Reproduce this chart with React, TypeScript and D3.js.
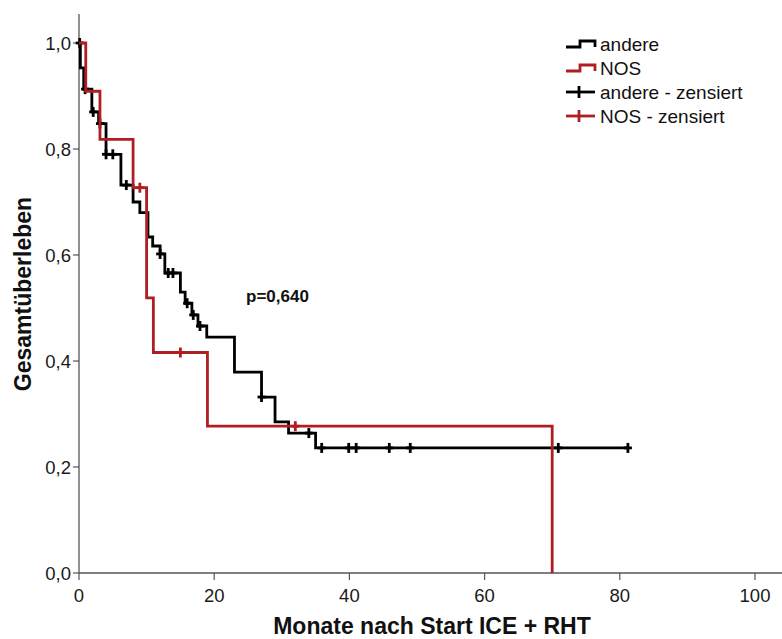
import React from "react";
import * as d3 from "d3";

// Kaplan–Meier steps: [months, survival after the step]
const andereSteps: [number, number][] = [
  [0, 1.0], [0.2, 0.953], [0.7, 0.913], [1.9, 0.87], [2.9, 0.848], [4.0, 0.79],
  [6.2, 0.732], [8.0, 0.7], [9.0, 0.68], [10.2, 0.634], [10.9, 0.617], [12.0, 0.602],
  [12.7, 0.566], [15.0, 0.53], [15.7, 0.509], [16.7, 0.487], [17.6, 0.466],
  [18.9, 0.445], [23.0, 0.379], [27.0, 0.332], [29.0, 0.285], [31.0, 0.264],
  [35.0, 0.236],
];
const andereEnd = 81.2;
const andereCensored = [
  0.1, 0.9, 2.1, 3.1, 4.0, 5.0, 7.0, 12.0, 13.2, 13.9, 16.0, 16.9, 17.9, 27.0,
  34.0, 35.9, 39.9, 41.0, 45.9, 49.0, 70.9, 81.2,
];

const nosSteps: [number, number][] = [
  [0, 1.0], [1.0, 0.909], [3.1, 0.818], [8.0, 0.727], [10.0, 0.519],
  [11.0, 0.416], [19.0, 0.277], [70.0, 0.0],
];
const nosEnd = 70.0;
const nosCensored = [9.0, 15.0, 32.0];

const xTicks = [0, 20, 40, 60, 80, 100];
const yTicks = [0, 0.2, 0.4, 0.6, 0.8, 1.0];
const legendItems = ["andere", "NOS", "andere - zensiert", "NOS - zensiert"];
const pValueText = "p=0,640";
const xTitle = "Monate nach Start ICE + RHT";
const yTitle = "Gesamtüberleben";

const BLACK = "#000000";
const RED = "#b01e23";
const FONT = "'Liberation Sans', Arial, sans-serif";

const W = 782;
const H = 639;

const deLocale = d3.formatLocale({
  decimal: ",",
  thousands: ".",
  grouping: [3],
  currency: ["", " €"],
});
const fmtY = deLocale.format(".1f");

function survivalAt(steps: [number, number][], t: number): number {
  let s = steps[0][1];
  for (const [time, val] of steps) {
    if (time <= t) s = val;
  }
  return s;
}

export default function App() {
  const x = d3.scaleLinear().domain([0, 100]).range([79, 755]);
  const y = d3.scaleLinear().domain([0, 1]).range([573, 43]);

  const line = d3
    .line<[number, number]>()
    .x((d) => x(d[0]))
    .y((d) => y(d[1]))
    .curve(d3.curveStepAfter);

  const andereLine = line([
    ...andereSteps,
    [andereEnd, andereSteps[andereSteps.length - 1][1]],
  ]);
  const nosLine = line([...nosSteps, [nosEnd, nosSteps[nosSteps.length - 1][1]]]);

  const censorMark = (t: number, s: number, color: string, key: string) => {
    const cx = x(t);
    const cy = y(s);
    return (
      <g key={key} stroke={color} strokeWidth={2.8}>
        <line x1={cx} x2={cx} y1={cy - 5} y2={cy + 5} />
        <line x1={cx - 4} x2={cx + 4} y1={cy} y2={cy} />
      </g>
    );
  };

  const legendX = 566;
  const legendRow0 = 44;
  const legendGap = 24;

  return (
    <svg
      width={W}
      height={H}
      style={{ position: "absolute", left: 0, top: 0, background: "#fff" }}
      fontFamily={FONT}
    >
      <rect x={0} y={0} width={W} height={H} fill="#fff" />

      {/* y axis */}
      <line x1={79} x2={79} y1={14} y2={573} stroke="#222" strokeWidth={1} />
      {yTicks.map((t) => (
        <g key={`yt${t}`}>
          <line x1={73} x2={79} y1={y(t)} y2={y(t)} stroke="#333" strokeWidth={1} />
          <text
            x={71}
            y={y(t)}
            dy="0.36em"
            textAnchor="end"
            fontSize={18.5}
            fill="#1a1a1a"
          >
            {fmtY(t)}
          </text>
        </g>
      ))}

      {/* x axis */}
      <line x1={79} x2={W} y1={573} y2={573} stroke="#555" strokeWidth={1.6} />
      {xTicks.map((t) => (
        <g key={`xt${t}`}>
          <line x1={x(t)} x2={x(t)} y1={573} y2={580} stroke="#555" strokeWidth={1.2} />
          <text x={x(t)} y={602} textAnchor="middle" fontSize={18.5} fill="#1a1a1a">
            {t}
          </text>
        </g>
      ))}

      {/* axis titles */}
      <text
        x={432}
        y={634}
        textAnchor="middle"
        fontSize={23}
        fontWeight="bold"
        fill="#111"
      >
        {xTitle}
      </text>
      <text
        transform="translate(31,294) rotate(-90)"
        textAnchor="middle"
        fontSize={23}
        fontWeight="bold"
        fill="#111"
      >
        {yTitle}
      </text>

      {/* survival curves */}
      <path d={andereLine ?? ""} fill="none" stroke={BLACK} strokeWidth={2.8} />
      {andereCensored.map((t, i) =>
        censorMark(t, survivalAt(andereSteps, t), BLACK, `ac${i}`)
      )}
      <path d={nosLine ?? ""} fill="none" stroke={RED} strokeWidth={2.8} />
      {nosCensored.map((t, i) => censorMark(t, survivalAt(nosSteps, t), RED, `nc${i}`))}

      {/* p-value */}
      <text x={246} y={302} fontSize={17} fontWeight="bold" fill="#111">
        {pValueText}
      </text>

      {/* legend */}
      {legendItems.map((label, i) => {
        const cy = legendRow0 + i * legendGap;
        const color = i % 2 === 0 ? BLACK : RED;
        const isStep = i < 2;
        return (
          <g key={label}>
            {isStep ? (
              <path
                d={`M${legendX},${cy + 3} H${legendX + 14} V${cy - 3} H${legendX + 29} V${cy + 3}`}
                fill="none"
                stroke={color}
                strokeWidth={2.8}
              />
            ) : (
              <g stroke={color} strokeWidth={2.8}>
                <line x1={legendX} x2={legendX + 29} y1={cy} y2={cy} />
                <line x1={legendX + 13} x2={legendX + 13} y1={cy - 6} y2={cy + 6} />
              </g>
            )}
            <text x={legendX + 34} y={cy + 7} fontSize={19} fill="#111">
              {label}
            </text>
          </g>
        );
      })}
    </svg>
  );
}
